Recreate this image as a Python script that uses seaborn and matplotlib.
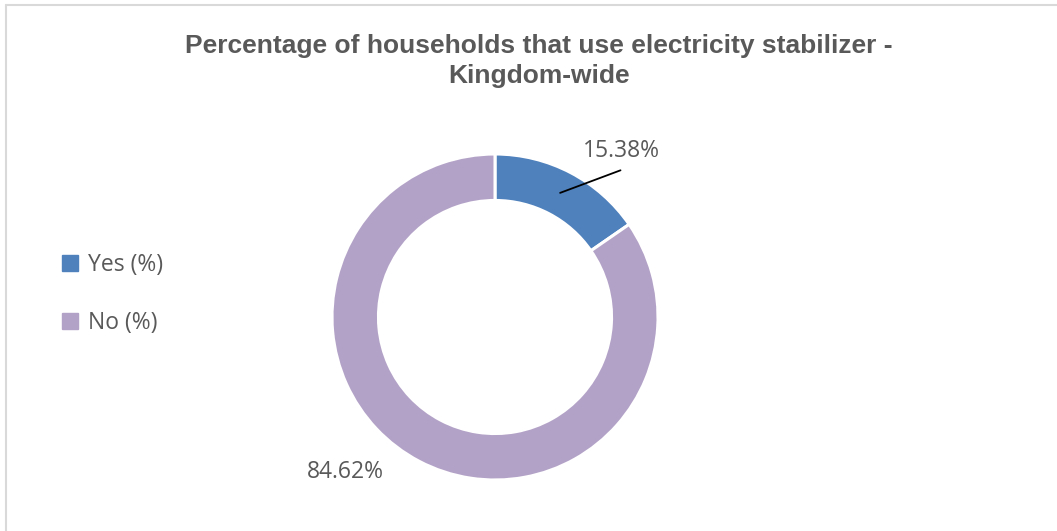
import numpy as np
import matplotlib.pyplot as plt
import seaborn as sns
from matplotlib.lines import Line2D

# データ
categories = ["Yes (%)", "No (%)"]
values = [15.38, 84.62]
colors = ["#4F81BD", "#B3A2C7"]
title = "Percentage of households that use electricity stabilizer -\nKingdom-wide"

sns.set_theme(style="white")
plt.rcParams['font.family'] = ['Open Sans', 'DejaVu Sans']

fig = plt.figure(figsize=(10.57, 5.31), dpi=100)
fig.patch.set_facecolor("white")

# 外枠
fig.add_artist(Line2D([6 / 1057, 1.0], [1 - 5 / 531, 1 - 5 / 531], color="#D9D9D9", lw=1.5))
fig.add_artist(Line2D([6 / 1057, 6 / 1057], [0, 1 - 5 / 531], color="#D9D9D9", lw=1.5))

# ドーナツ
cx, cy, r = 495 / 1057, 1 - 317 / 531, 163
ax = fig.add_axes([cx - r / 1057, cy - r / 531, 2 * r / 1057, 2 * r / 531])
wedges, _ = ax.pie(values, colors=colors, startangle=90, counterclock=False, radius=1.0,
                   wedgeprops=dict(width=0.285, edgecolor="white", linewidth=2.2))
ax.set_xlim(-1, 1)
ax.set_ylim(-1, 1)
ax.axis("off")

# ラベル
label_color = "#595959"
fs = 16.5
# Yes
w = wedges[0]
ang = np.deg2rad((w.theta1 + w.theta2) / 2)
p0 = (0.86 * np.cos(ang), 0.86 * np.sin(ang))
ax.plot([p0[0], 0.77], [p0[1], 0.90], color="black", lw=1.3, clip_on=False)
ax.text(0.775, 1.02, f"{values[0]:.2f}%", ha="center", va="center", fontsize=fs,
        color=label_color)
# No
ax.text(-0.92, -0.95, f"{values[1]:.2f}%", ha="center", va="center", fontsize=fs,
        color=label_color)

# タイトル
fig.text(539 / 1057, 1 - 61 / 531, title, ha="center", va="center", fontsize=19,
         fontweight="bold", color="#595959", family=["Liberation Sans", "DejaVu Sans"],
         linespacing=1.28)

# 凡例
handles = [Line2D([0], [0], marker="s", linestyle="", markersize=11,
                  markerfacecolor=c, markeredgecolor=c) for c in colors]
leg = fig.legend(handles, categories, loc="center left", bbox_to_anchor=(38 / 1057, 1 - 294 / 531),
                 frameon=False, fontsize=fs, labelspacing=1.5, handletextpad=0.3,
                 handlelength=1.0)
for t in leg.get_texts():
    t.set_color(label_color)

fig.savefig("out.png", dpi=100)
